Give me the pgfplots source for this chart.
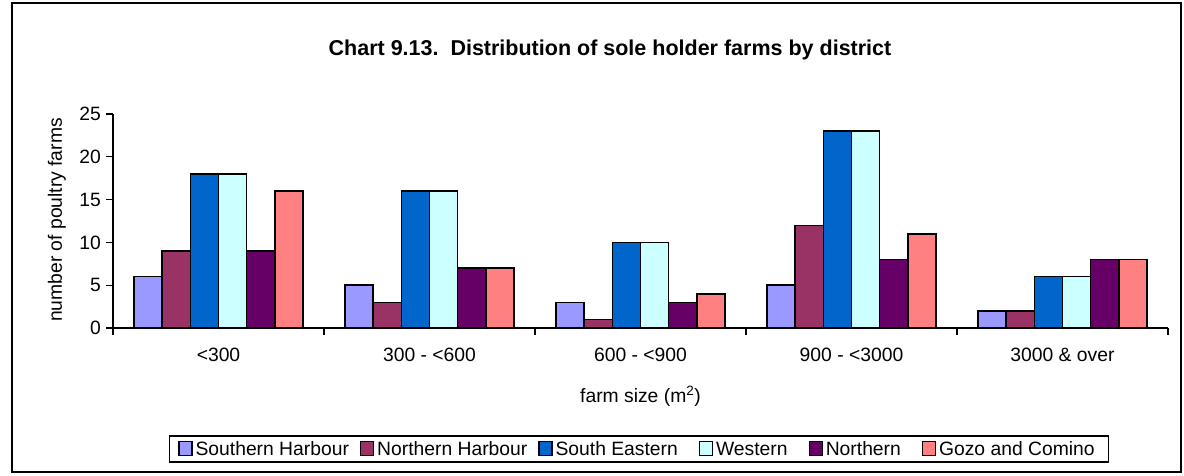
\documentclass[border=0pt]{standalone}
\usepackage{fontspec}
\setmainfont{Liberation Sans}
\usepackage{pgfplots}
\pgfplotsset{compat=1.18}
\definecolor{cSH}{HTML}{9999FF}
\definecolor{cNH}{HTML}{993366}
\definecolor{cSE}{HTML}{0066CC}
\definecolor{cW}{HTML}{CCFFFF}
\definecolor{cN}{HTML}{660066}
\definecolor{cG}{HTML}{FF8080}
\newcommand{\fs}{\fontsize{19.3}{23}\selectfont}
\newcommand{\gap}[1]{\rule{#1}{0pt}}
\begin{document}
\begin{tikzpicture}
\useasboundingbox (0,0) rectangle (1184pt,475pt);
\draw[line width=1.5pt] (12pt,3pt) rectangle (1181pt,472pt);
\node[font=\bfseries\fontsize{21.5}{25}\selectfont] at (610pt,425pt) {Chart 9.13.\ \ Distribution of sole holder farms by district};
\node[rotate=90, font=\fs, inner sep=0pt] at (57pt,255pt) {number of poultry farms};
\begin{axis}[
  at={(113pt,147pt)}, anchor=south west,
  scale only axis, width=1055pt, height=214pt,
  ybar=0pt, bar width=28.2pt,
  xmin=-0.5, xmax=4.5, ymin=0, ymax=25,
  axis lines*=left,
  axis line style={line width=1.2pt,-},
  tick style={line width=1.2pt, black},
  tick align=outside, major tick length=7pt,
  xtick={-0.5,0.5,1.5,2.5,3.5,4.5},
  x tick label as interval,
  xticklabels={{<300},{300 - <600},{600 - <900},{900 - <3000},{3000 \& over}},
  ytick={0,5,10,15,20,25},
  /pgf/number format/assume math mode=true,
  ticklabel style={font=\fs},
  xticklabel style={yshift=-9.5pt},
  yticklabel style={xshift=-1.6pt},
  xlabel={farm size (m\textsuperscript{2})},
  every axis x label/.style={at={(axis description cs:0.5,-0.318)}, anchor=center, font=\fs},
  every axis plot post/.append style={draw=black, line width=1.5pt,
    legend image code/.code={\draw[##1, line width=1.2pt] (0pt,0pt) rectangle (13pt,13.5pt);}},
  legend columns=6,
  legend style={at={(rel axis cs:0.4986,-0.5654)}, anchor=center, draw=black, line width=1.5pt,
    font=\fs, inner xsep=9pt, inner ysep=5pt,
    /tikz/every odd column/.append style={column sep=3pt},
    /tikz/every even column/.append style={column sep=11pt},
    nodes={inner sep=0pt, anchor=base west}},
]
\addplot[fill=cSH] coordinates {(0,6) (1,5) (2,3) (3,5) (4,2)};
\addplot[fill=cNH] coordinates {(0,9) (1,3) (2,1) (3,12) (4,2)};
\addplot[fill=cSE] coordinates {(0,18) (1,16) (2,10) (3,23) (4,6)};
\addplot[fill=cW] coordinates {(0,18) (1,16) (2,10) (3,23) (4,6)};
\addplot[fill=cN] coordinates {(0,9) (1,7) (2,3) (3,8) (4,8)};
\addplot[fill=cG] coordinates {(0,16) (1,7) (2,4) (3,11) (4,8)};
\legend{Southern Harbour,Northern Harbour,South Eastern\gap{10pt},Western\gap{10pt},Northern\gap{10pt},Gozo and Comino\gap{5pt}}
\end{axis}
\end{tikzpicture}
\end{document}
